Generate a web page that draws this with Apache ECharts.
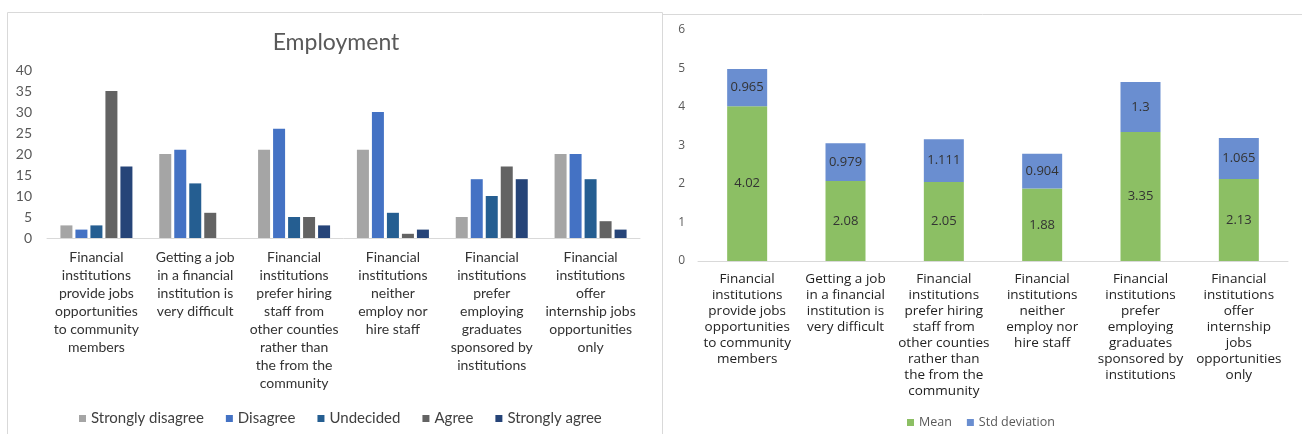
<!DOCTYPE html>
<html>
<head>
<meta charset="utf-8">
<script src="https://cdn.jsdelivr.net/npm/echarts@6/dist/echarts.min.js"></script>
<style>
  html, body { margin: 0; padding: 0; background: #ffffff; }
  #chart { width: 1302px; height: 434px; }
</style>
</head>
<body>
<div id="chart"></div>
<script>
// Survey statements, wrapped the way each panel shows them
const leftCategories = [
  'Financial\ninstitutions\nprovide jobs\nopportunities\nto community\nmembers',
  'Getting a job\nin a financial\ninstitution is\nvery difficult',
  'Financial\ninstitutions\nprefer hiring\nstaff from\nother counties\nrather than\nthe from the\ncommunity',
  'Financial\ninstitutions\nneither\nemploy nor\nhire staff',
  'Financial\ninstitutions\nprefer\nemploying\ngraduates\nsponsored by\ninstitutions',
  'Financial\ninstitutions\noffer\ninternship jobs\nopportunities\nonly'
];
const rightCategories = [
  'Financial\ninstitutions\nprovide jobs\nopportunities\nto community\nmembers',
  'Getting a job\nin a financial\ninstitution is\nvery difficult',
  'Financial\ninstitutions\nprefer hiring\nstaff from\nother counties\nrather than\nthe from the\ncommunity',
  'Financial\ninstitutions\nneither\nemploy nor\nhire staff',
  'Financial\ninstitutions\nprefer\nemploying\ngraduates\nsponsored by\ninstitutions',
  'Financial\ninstitutions\noffer\ninternship\njobs\nopportunities\nonly'
];

// Response counts per statement
const stronglyDisagree = [3, 20, 21, 21, 5, 20];
const disagree         = [2, 21, 26, 30, 14, 20];
const undecided        = [3, 13, 5, 6, 10, 14];
const agree            = [35, 6, 5, 1, 17, 4];
const stronglyAgree    = [17, 0, 3, 2, 14, 2];

// Likert summary per statement
const meanValues = [4.02, 2.08, 2.05, 1.88, 3.35, 2.13];
const stdValues  = [0.965, 0.979, 1.111, 0.904, 1.3, 1.065];

const leftTicks = { min: 0, max: 40, interval: 5 };
const rightTicks = { min: 0, max: 6, interval: 1 };

const leftFont = 'Lato, "Open Sans", sans-serif';
const rightFont = '"Open Sans", "DejaVu Sans", sans-serif';

const chart = echarts.init(document.getElementById('chart'), null, { renderer: 'canvas' });

function countBar(name, data, color) {
  return {
    name, type: 'bar', xAxisIndex: 0, yAxisIndex: 0,
    data, barWidth: 12, barGap: '25%',
    itemStyle: { color },
    emphasis: { disabled: true }
  };
}

function stackBar(name, data, color) {
  return {
    name, type: 'bar', xAxisIndex: 1, yAxisIndex: 1, stack: 'summary',
    data, barWidth: 40,
    itemStyle: { color },
    label: {
      show: true, position: 'inside',
      color: '#333333', fontFamily: rightFont, fontSize: 13,
      formatter: p => String(p.value)
    },
    emphasis: { disabled: true }
  };
}

chart.setOption({
  animation: false,
  title: {
    text: 'Employment', left: 331, top: 26, textAlign: 'center',
    textStyle: { fontFamily: leftFont, fontSize: 23, fontWeight: 'normal', color: '#595959' }
  },
  graphic: [
    { type: 'rect', shape: { x: 7.5, y: 12.5, width: 655, height: 440 },
      style: { fill: 'none', stroke: '#d9d9d9', lineWidth: 1 }, silent: true },
    { type: 'line', shape: { x1: 663, y1: 14.5, x2: 1302, y2: 14.5 },
      style: { stroke: '#d9d9d9', lineWidth: 1 }, silent: true }
  ],
  legend: [
    {
      data: ['Strongly disagree', 'Disagree', 'Undecided', 'Agree', 'Strongly agree'],
      left: 74, top: 406,
      orient: 'horizontal',
      icon: 'rect', itemWidth: 7, itemHeight: 7, itemGap: 22,
      textStyle: { fontFamily: leftFont, fontSize: 15, color: '#404040' },
      selectedMode: false
    },
    {
      data: ['Mean', 'Std deviation'],
      left: 902, top: 411,
      icon: 'rect', itemWidth: 7, itemHeight: 7, itemGap: 15,
      textStyle: { fontFamily: rightFont, fontSize: 12.5, color: '#595959' },
      selectedMode: false
    }
  ],
  grid: [
    { left: 47, top: 70, width: 593, height: 168 },
    { left: 698, top: 30, width: 590, height: 231 }
  ],
  xAxis: [
    {
      type: 'category', gridIndex: 0, data: leftCategories,
      axisLine: { lineStyle: { color: '#d9d9d9' } },
      axisTick: { show: false },
      axisLabel: {
        interval: 0, margin: 10, lineHeight: 18,
        fontFamily: leftFont, fontSize: 14, color: '#333333'
      }
    },
    {
      type: 'category', gridIndex: 1, data: rightCategories,
      axisLine: { lineStyle: { color: '#d9d9d9' } },
      axisTick: { show: false },
      axisLabel: {
        interval: 0, margin: 10, lineHeight: 16,
        fontFamily: rightFont, fontSize: 13.5, color: '#222222'
      }
    }
  ],
  yAxis: [
    {
      type: 'value', gridIndex: 0, ...leftTicks,
      splitLine: { show: false }, axisLine: { show: false }, axisTick: { show: false },
      axisLabel: { margin: 15, fontFamily: leftFont, fontSize: 14, color: '#595959' }
    },
    {
      type: 'value', gridIndex: 1, ...rightTicks,
      splitLine: { show: false }, axisLine: { show: false }, axisTick: { show: false },
      axisLabel: { margin: 13, fontFamily: rightFont, fontSize: 12, color: '#595959' }
    }
  ],
  series: [
    countBar('Strongly disagree', stronglyDisagree, '#a5a5a5'),
    countBar('Disagree', disagree, '#4472c4'),
    countBar('Undecided', undecided, '#255e91'),
    countBar('Agree', agree, '#636363'),
    countBar('Strongly agree', stronglyAgree, '#264478'),
    stackBar('Mean', meanValues, '#8cbf64'),
    stackBar('Std deviation', stdValues, '#6a8ed0')
  ]
});
</script>
</body>
</html>
